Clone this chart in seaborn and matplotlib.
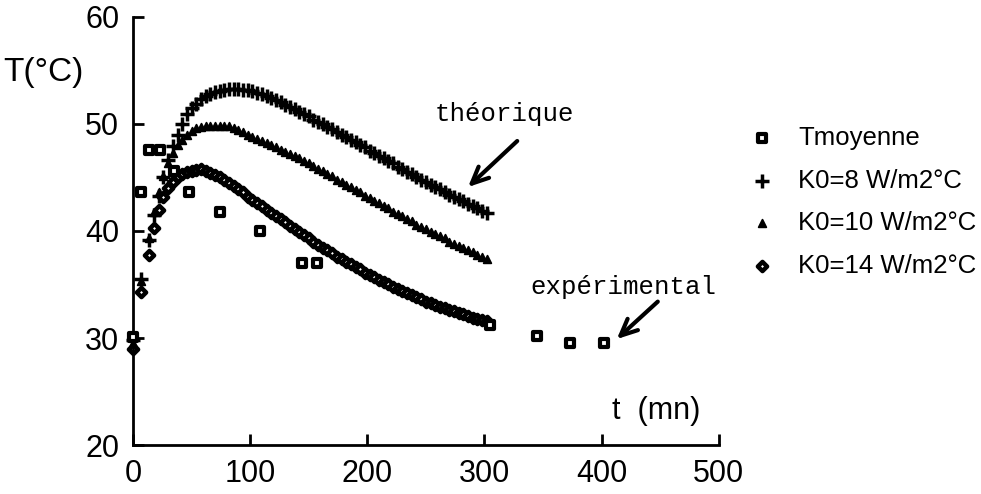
import numpy as np
import pandas as pd
import matplotlib
matplotlib.use("Agg")
import matplotlib.pyplot as plt
import seaborn as sns

# temps (mn) des courbes theoriques
t_theo = [0, 7, 14, 18, 22, 26, 30, 34, 38, 42, 46, 50, 54, 58, 62, 66, 70, 74, 78, 82,
          86, 90, 94, 98, 102, 106, 110, 114, 118, 122, 126, 130, 134, 138, 142, 146,
          150, 154, 158, 162, 166, 170, 174, 178, 182, 186, 190, 194, 198, 202, 206,
          210, 214, 218, 222, 226, 230, 234, 238, 242, 246, 250, 254, 258, 262, 266,
          270, 274, 278, 282, 286, 290, 294, 298, 302]

k8 = [29.8, 35.5, 39.2, 41.5, 43.3, 45.0, 46.6, 47.9, 49.0, 50.0, 50.9, 51.5, 51.9, 52.3,
      52.6, 52.8, 53.0, 53.1, 53.2, 53.3, 53.3, 53.3, 53.2, 53.2, 53.1, 52.9, 52.8, 52.6,
      52.4, 52.2, 52.0, 51.8, 51.6, 51.4, 51.1, 50.9, 50.7, 50.4, 50.2, 50.0, 49.7, 49.5,
      49.2, 49.0, 48.8, 48.5, 48.3, 48.0, 47.8, 47.5, 47.3, 47.0, 46.8, 46.5, 46.3, 46.0,
      45.8, 45.5, 45.3, 45.0, 44.8, 44.6, 44.3, 44.1, 43.9, 43.6, 43.4, 43.2, 43.0, 42.8,
      42.5, 42.3, 42.1, 41.9, 41.7]

k10 = [29.5, 35.3, 39.3, 41.8, 43.6, 45.1, 46.3, 47.3, 48.0, 48.5, 49.0, 49.3, 49.6, 49.7,
       49.8, 49.8, 49.8, 49.8, 49.8, 49.8, 49.6, 49.4, 49.2, 49.0, 48.8, 48.6, 48.4, 48.2,
       48.0, 47.8, 47.6, 47.4, 47.2, 47.0, 46.8, 46.5, 46.3, 46.1, 45.8, 45.6, 45.3, 45.1,
       44.8, 44.6, 44.3, 44.1, 43.8, 43.6, 43.3, 43.1, 42.8, 42.6, 42.3, 42.1, 41.8, 41.6,
       41.4, 41.1, 40.9, 40.6, 40.4, 40.2, 39.9, 39.7, 39.5, 39.3, 39.0, 38.8, 38.6, 38.4,
       38.2, 38.0, 37.8, 37.6, 37.4]

k14 = [29.0, 34.3, 37.8, 40.3, 42.0, 43.2, 44.0, 44.6, 45.0, 45.3, 45.5, 45.6, 45.7, 45.8,
       45.6, 45.4, 45.2, 45.0, 44.8, 44.5, 44.2, 43.9, 43.6, 43.2, 42.9, 42.6, 42.3, 42.0,
       41.7, 41.4, 41.1, 40.8, 40.5, 40.2, 39.9, 39.6, 39.3, 39.0, 38.7, 38.4, 38.2, 37.9,
       37.6, 37.4, 37.1, 36.9, 36.6, 36.4, 36.1, 35.9, 35.7, 35.4, 35.2, 35.0, 34.8, 34.6,
       34.4, 34.2, 34.0, 33.8, 33.6, 33.4, 33.3, 33.1, 32.9, 32.8, 32.6, 32.5, 32.3, 32.2,
       32.1, 31.9, 31.8, 31.7, 31.6]

# mesures
t_exp = [0, 7, 14, 23, 35, 48, 74, 108, 144, 157, 305, 345, 373, 402]
t_moy = [30.1, 43.6, 47.6, 47.6, 45.6, 43.6, 41.8, 40.0, 37.0, 37.0, 31.2, 30.2, 29.5, 29.5]

labels = ["Tmoyenne", "K0=8 W/m2°C", "K0=10 W/m2°C", "K0=14 W/m2°C"]

sns.set_style("ticks")
plt.rcParams["font.family"] = ["Liberation Sans", "DejaVu Sans"]
plt.rcParams.update({"text.color": "black", "axes.edgecolor": "black",
                     "xtick.color": "black", "ytick.color": "black"})

fig = plt.figure(figsize=(9.81, 4.94), dpi=100)
ax = fig.add_axes([0.1356, 0.099, 0.597, 0.867])

theo = pd.DataFrame({"t": t_theo, "k8": k8, "k10": k10, "k14": k14})
exp = pd.DataFrame({"t": t_exp, "T": t_moy})

sns.scatterplot(data=exp, x="t", y="T", marker="s", s=36, facecolor="white",
                edgecolor="black", linewidth=3, ax=ax, label=labels[0], clip_on=False, zorder=5)
sns.scatterplot(data=theo, x="t", y="k8", marker="+", s=100, color="black",
                linewidth=2.5, ax=ax, label=labels[1], clip_on=False)
sns.scatterplot(data=theo, x="t", y="k10", marker="^", s=30, color="black",
                edgecolor="black", linewidth=1.3, ax=ax, label=labels[2], clip_on=False)
sns.scatterplot(data=theo, x="t", y="k14", marker="D", s=22, facecolor="white",
                edgecolor="black", linewidth=3.2, ax=ax, label=labels[3], clip_on=False)

ax.set_xlim(0, 500)
ax.set_ylim(20, 60)
ax.set_xticks([0, 100, 200, 300, 400, 500])
ax.set_yticks([20, 30, 40, 50, 60])
ax.set_xlabel("")
ax.set_ylabel("")
sns.despine(ax=ax)
for sp in ["left", "bottom"]:
    ax.spines[sp].set_linewidth(2)
ax.tick_params(direction="in", length=8, width=2, labelsize=22, pad=10)
narrow = ["Liberation Sans Narrow", "Liberation Sans"]
for lab in ax.get_xticklabels():
    lab.set_family(narrow)

ax.text(-0.222, 0.87, "T(°C)", transform=ax.transAxes, fontsize=24, ha="left", va="center")
ax.text(409, 23.2, "t  (mn)", fontsize=22, ha="left", va="center", family=narrow)

mono = ["Liberation Mono", "DejaVu Sans Mono"]
arrow = dict(arrowstyle="->,head_length=1.2,head_width=0.55", lw=3, color="black",
             mutation_scale=10, shrinkA=0, shrinkB=0)
ax.text(317, 50.9, "théorique", fontsize=18.5, family=mono, ha="center", va="center")
ax.annotate("", xy=(286, 44.1), xytext=(328, 48.4), arrowprops=arrow)
ax.text(419, 34.8, "expérimental", fontsize=18.5, family=mono, ha="center", va="center")
ax.annotate("", xy=(413, 29.9), xytext=(448, 33.4), arrowprops=arrow)

ax.legend(loc="upper left", bbox_to_anchor=(1.03, 0.745), frameon=False, fontsize=18.5,
          borderpad=0, handletextpad=0.4, labelspacing=0.72, scatterpoints=1,
          borderaxespad=0)

fig.savefig("out.png", dpi=100)
